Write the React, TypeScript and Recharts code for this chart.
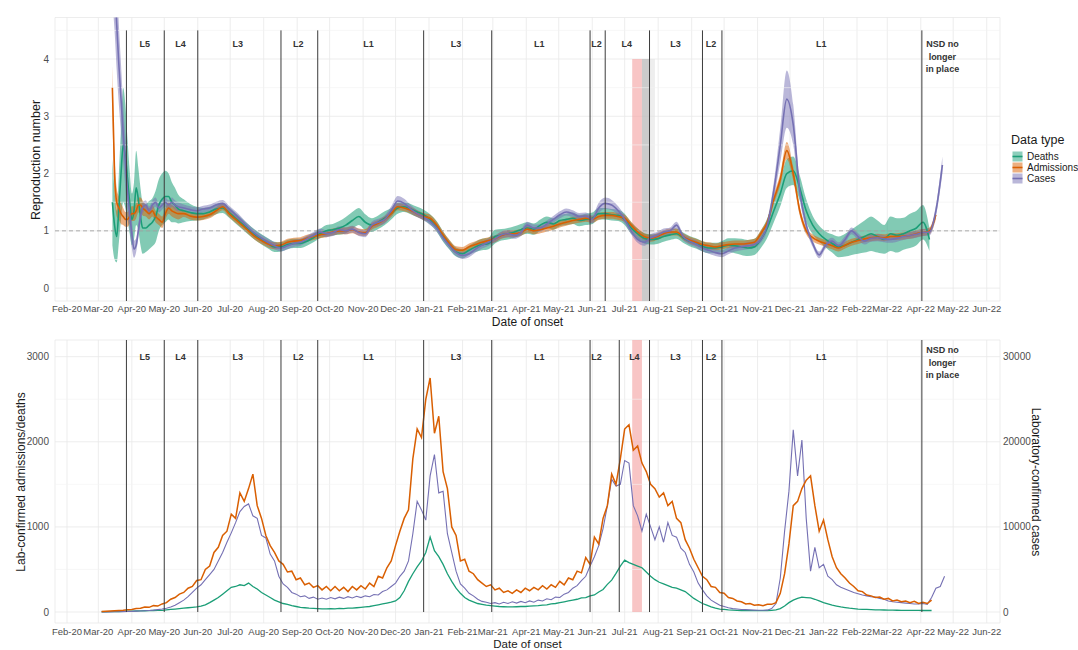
import React from 'react';
import {
  ComposedChart, Area, Line, Scatter, XAxis, YAxis, CartesianGrid, ReferenceLine, ReferenceArea,
} from 'recharts';

const DEATHS = '#1b9e77';
const ADMISSIONS = '#d95f02';
const CASES = '#7570b3';

// day index = days since 1 Feb 2020
const DAY0 = Date.UTC(2020, 1, 1);
const dayOf = (iso: string) => Math.round((Date.parse(iso + 'T00:00:00Z') - DAY0) / 86400000);
const MONTHS = ['Jan', 'Feb', 'Mar', 'Apr', 'May', 'Jun', 'Jul', 'Aug', 'Sep', 'Oct', 'Nov', 'Dec'];
const fmtDay = (d: number) => {
  const dt = new Date(DAY0 + d * 86400000);
  return `${MONTHS[dt.getUTCMonth()]}-${String(dt.getUTCFullYear()).slice(2)}`;
};
const monthTicks: number[] = [];
for (let m = 0; m <= 28; m++) monthTicks.push(Math.round((Date.UTC(2020, 1 + m, 1) - DAY0) / 86400000));
const X_DOMAIN: [number, number] = [-11.1, 863.3];

// ---- level periods ----
const levelNames = ['L5', 'L4', 'L3', 'L2', 'L1', 'L3', 'L1', 'L2', 'L4', 'L3', 'L2', 'L1', 'NSD no\nlonger\nin place'];
const levelLabelDatesTop = ['2020-04-13', '2020-05-16', '2020-07-08', '2020-09-02', '2020-11-06', '2021-01-26', '2021-04-13', '2021-06-05', '2021-07-03', '2021-08-17', '2021-09-19', '2021-12-30', '2022-04-21'];
const levelLabelDatesBottom = ['2020-04-13', '2020-05-16', '2020-07-08', '2020-09-02', '2020-11-06', '2021-01-26', '2021-04-13', '2021-06-05', '2021-07-10', '2021-08-17', '2021-09-19', '2021-12-30', '2022-04-21'];
const levelChangesTop = ['2020-03-27', '2020-05-01', '2020-06-01', '2020-08-17', '2020-09-20', '2020-12-27', '2021-02-28', '2021-05-30', '2021-06-13', '2021-07-24', '2021-09-11', '2021-09-29', '2022-04-02'];
const levelChangesBottom = ['2020-03-27', '2020-05-01', '2020-06-01', '2020-08-17', '2020-09-20', '2020-12-27', '2021-02-28', '2021-05-30', '2021-06-26', '2021-07-24', '2021-09-11', '2021-09-29', '2022-04-02'];
const pinkPeriod = ['2021-07-08', '2021-07-17'];
const greyPeriod = ['2021-07-17', '2021-07-24'];
const lightGreyPeriod = ['2021-07-24', '2021-07-29'];

// ---- top panel: reproduction number (median + half-width of interval) ----
const topEarlyDays = [42, 44, 46, 48, 50, 52, 54, 56, 58, 60, 62, 64, 66, 68, 70, 73, 76, 79, 82, 85, 88, 91, 94, 97, 100, 103];
const topDays = [...topEarlyDays, ...Array.from({ length: 118 }, (_, i) => 108 + 6 * i)];

const casesR = [
  6.0, 5.4, 4.6, 3.9, 3.3, 2.7, 2.2, 1.7, 1.3, 0.95, 0.68, 0.75, 1.0, 1.25, 1.4, 1.45, 1.35, 1.45, 1.5, 1.4, 1.45, 1.5, 1.45, 1.5, 1.45, 1.42,
  1.4, 1.37, 1.35, 1.38, 1.4, 1.45, 1.48, 1.38, 1.28, 1.17,
  1.05, 0.95, 0.87, 0.8, 0.74, 0.7, 0.74, 0.78, 0.8, 0.86,
  0.92, 0.98, 0.95, 0.97, 1.02, 1.0, 1.03, 0.97, 0.95, 1.1,
  1.15, 1.2, 1.35, 1.52, 1.48, 1.38, 1.3, 1.24, 1.16, 1.05,
  0.88, 0.74, 0.62, 0.57, 0.6, 0.68, 0.75, 0.8, 0.86, 0.93,
  0.95, 0.92, 0.97, 1.1, 1.05, 1.05, 1.12, 1.2, 1.28, 1.33,
  1.3, 1.25, 1.26, 1.2, 1.4, 1.48, 1.45, 1.35, 1.2, 1.0,
  0.85, 0.8, 0.88, 0.92, 0.98, 1.0, 1.1, 0.9, 0.82, 0.77,
  0.7, 0.66, 0.62, 0.6, 0.65, 0.7, 0.72, 0.74, 0.76, 0.85,
  1.1, 1.7, 2.5, 3.3, 2.85, 1.7, 1.1, 0.78, 0.58, 0.75,
  0.82, 0.74, 0.85, 1.0, 0.9, 0.82, 0.87, 0.88, 0.86, 0.85,
  0.87, 0.9, 0.92, 0.94, 0.97, 0.98, 1.35, 2.15,
];
const casesW = [
  1.0, 0.9, 0.8, 0.7, 0.6, 0.5, 0.45, 0.4, 0.3, 0.25, 0.15, 0.12, 0.12, 0.1, 0.1, 0.08, 0.08, 0.08, 0.08, 0.08, 0.08, 0.08, 0.08, 0.08, 0.08, 0.08,
  0.06, 0.06, 0.06, 0.06, 0.06, 0.06, 0.06, 0.06, 0.06, 0.06,
  0.06, 0.06, 0.06, 0.06, 0.06, 0.06, 0.06, 0.06, 0.06, 0.06,
  0.06, 0.06, 0.06, 0.06, 0.06, 0.06, 0.06, 0.06, 0.06, 0.06,
  0.06, 0.07, 0.08, 0.09, 0.08, 0.07, 0.06, 0.06, 0.06, 0.06,
  0.06, 0.06, 0.06, 0.06, 0.06, 0.06, 0.06, 0.06, 0.06, 0.06,
  0.06, 0.06, 0.06, 0.06, 0.06, 0.06, 0.06, 0.06, 0.06, 0.06,
  0.06, 0.06, 0.06, 0.07, 0.09, 0.1, 0.09, 0.08, 0.07, 0.06,
  0.06, 0.06, 0.06, 0.06, 0.06, 0.06, 0.06, 0.06, 0.06, 0.06,
  0.06, 0.06, 0.06, 0.06, 0.06, 0.06, 0.06, 0.06, 0.06, 0.06,
  0.1, 0.15, 0.3, 0.5, 0.35, 0.15, 0.08, 0.06, 0.06, 0.06,
  0.06, 0.06, 0.06, 0.06, 0.06, 0.06, 0.06, 0.06, 0.06, 0.06,
  0.06, 0.06, 0.06, 0.06, 0.06, 0.06, 0.1, 0.15,
];
const admissionsR = [
  3.5, 2.0, 1.5, 1.4, 1.3, 1.25, 1.2, 1.2, 1.25, 1.3, 1.3, 1.35, 1.45, 1.45, 1.4, 1.35, 1.3, 1.35, 1.25, 1.2, 1.15, 1.3, 1.4, 1.35, 1.32, 1.3,
  1.3, 1.26, 1.24, 1.25, 1.28, 1.35, 1.42, 1.3, 1.2, 1.1,
  1.0, 0.9, 0.83, 0.77, 0.74, 0.75, 0.8, 0.82, 0.83, 0.87,
  0.9, 0.93, 0.95, 0.98, 1.0, 1.0, 1.02, 0.98, 0.97, 1.08,
  1.13, 1.2, 1.3, 1.42, 1.4, 1.36, 1.3, 1.25, 1.22, 1.1,
  0.93, 0.78, 0.67, 0.66, 0.72, 0.76, 0.8, 0.83, 0.86, 0.92,
  0.95, 0.95, 0.97, 1.03, 1.0, 1.02, 1.05, 1.08, 1.12, 1.15,
  1.18, 1.2, 1.22, 1.2, 1.25, 1.27, 1.27, 1.25, 1.22, 1.1,
  0.98, 0.9, 0.87, 0.9, 0.95, 0.98, 0.98, 0.9, 0.84, 0.8,
  0.76, 0.74, 0.72, 0.74, 0.76, 0.77, 0.77, 0.78, 0.8, 0.95,
  1.15, 1.55, 1.9, 2.4, 2.0, 1.35, 1.0, 0.88, 0.82, 0.78,
  0.74, 0.7, 0.75, 0.8, 0.83, 0.86, 0.88, 0.89, 0.88, 0.9,
  0.9, 0.91, 0.92, 0.95, 0.97, 1.0, 1.28, null,
];
const admissionsW = [
  0.4, 0.35, 0.25, 0.2, 0.18, 0.15, 0.13, 0.13, 0.13, 0.13, 0.13, 0.13, 0.13, 0.13, 0.13, 0.1, 0.1, 0.1, 0.1, 0.1, 0.1, 0.1, 0.1, 0.1, 0.1, 0.1,
  0.06, 0.06, 0.06, 0.06, 0.06, 0.06, 0.06, 0.06, 0.06, 0.06,
  0.06, 0.06, 0.06, 0.06, 0.06, 0.06, 0.06, 0.06, 0.06, 0.06,
  0.06, 0.06, 0.06, 0.06, 0.06, 0.06, 0.06, 0.06, 0.06, 0.06,
  0.06, 0.06, 0.06, 0.06, 0.06, 0.06, 0.06, 0.06, 0.06, 0.06,
  0.06, 0.06, 0.06, 0.06, 0.06, 0.06, 0.06, 0.06, 0.06, 0.06,
  0.06, 0.06, 0.06, 0.06, 0.06, 0.06, 0.06, 0.06, 0.06, 0.06,
  0.06, 0.06, 0.06, 0.06, 0.06, 0.06, 0.06, 0.06, 0.06, 0.06,
  0.06, 0.06, 0.06, 0.06, 0.06, 0.06, 0.06, 0.06, 0.06, 0.06,
  0.06, 0.06, 0.06, 0.06, 0.06, 0.06, 0.06, 0.06, 0.06, 0.06,
  0.06, 0.08, 0.1, 0.15, 0.12, 0.08, 0.06, 0.06, 0.06, 0.06,
  0.06, 0.06, 0.06, 0.06, 0.06, 0.06, 0.06, 0.06, 0.06, 0.06,
  0.06, 0.06, 0.06, 0.06, 0.06, 0.06, 0.08, null,
];
const deathsR = [
  1.5, 1.1, 0.9, 1.4, 2.0, 2.5, 2.3, 1.9, 1.5, 1.2, 1.35, 1.75, 1.55, 1.25, 1.05, 1.05, 1.1, 1.15, 1.25, 1.45, 1.55, 1.6, 1.6, 1.5, 1.45, 1.38,
  1.35, 1.32, 1.3, 1.3, 1.33, 1.38, 1.4, 1.32, 1.22, 1.12,
  1.02, 0.93, 0.85, 0.78, 0.72, 0.72, 0.76, 0.78, 0.78, 0.82,
  0.88, 0.95, 1.0, 1.02, 1.05, 1.1, 1.18, 1.25, 1.15, 1.1,
  1.15, 1.22, 1.3, 1.4, 1.42, 1.38, 1.33, 1.28, 1.2, 1.08,
  0.9, 0.75, 0.63, 0.6, 0.66, 0.72, 0.76, 0.78, 0.9, 0.93,
  0.95, 0.98, 1.02, 1.05, 1.03, 1.1, 1.15, 1.12, 1.18, 1.2,
  1.22, 1.18, 1.2, 1.22, 1.3, 1.3, 1.28, 1.27, 1.2, 1.05,
  0.95, 0.87, 0.85, 0.86, 0.9, 0.93, 0.95, 0.88, 0.82, 0.78,
  0.73, 0.7, 0.7, 0.72, 0.75, 0.74, 0.72, 0.7, 0.72, 0.85,
  1.05, 1.35, 1.65, 2.0, 2.05, 1.75, 1.35, 1.1, 0.95, 0.85,
  0.78, 0.72, 0.75, 0.8, 0.85, 0.9, 0.95, 0.9, 0.85, 0.95,
  0.92, 0.95, 1.0, 1.05, 1.15, 0.85, null, null,
];
const deathsW = [
  0.75, 0.6, 0.45, 0.6, 0.8, 1.0, 0.9, 0.7, 0.55, 0.45, 0.5, 0.65, 0.55, 0.5, 0.45, 0.42, 0.42, 0.42, 0.45, 0.45, 0.45, 0.45, 0.4, 0.35, 0.3, 0.25,
  0.2, 0.15, 0.12, 0.1, 0.09, 0.09, 0.09, 0.09, 0.09, 0.09,
  0.09, 0.09, 0.09, 0.09, 0.09, 0.08, 0.08, 0.08, 0.08, 0.08,
  0.08, 0.08, 0.1, 0.1, 0.12, 0.14, 0.15, 0.15, 0.14, 0.12,
  0.12, 0.12, 0.1, 0.1, 0.09, 0.09, 0.09, 0.09, 0.09, 0.09,
  0.09, 0.08, 0.08, 0.08, 0.08, 0.09, 0.1, 0.1, 0.12, 0.1,
  0.1, 0.1, 0.1, 0.1, 0.1, 0.1, 0.1, 0.1, 0.1, 0.1,
  0.1, 0.1, 0.1, 0.1, 0.1, 0.1, 0.1, 0.1, 0.1, 0.1,
  0.09, 0.09, 0.09, 0.09, 0.09, 0.09, 0.09, 0.09, 0.09, 0.09,
  0.09, 0.09, 0.09, 0.1, 0.12, 0.13, 0.14, 0.14, 0.14, 0.15,
  0.17, 0.2, 0.22, 0.25, 0.25, 0.22, 0.2, 0.16, 0.14, 0.14,
  0.16, 0.18, 0.2, 0.22, 0.25, 0.28, 0.3, 0.28, 0.25, 0.3,
  0.3, 0.28, 0.3, 0.3, 0.3, 0.2, null, null,
];

// ---- bottom panel: daily counts, sampled every 4 days from day 32 ----
const admissionsDaily = [
  5, 8, 12, 15, 18, 22, 28, 30, 40, 45,
  60, 55, 75, 70, 95, 110, 150, 170, 210, 230,
  280, 300, 370, 380, 500, 540, 700, 760, 900, 950,
  1150, 1100, 1400, 1300, 1450, 1620, 1250, 1100, 900, 780,
  700, 600, 560, 470, 480, 380, 400, 320, 340, 290,
  310, 260, 300, 250, 300, 250, 290, 240, 300, 260,
  310, 270, 340, 300, 420, 400, 520, 600, 780, 950,
  1100, 1200, 1800, 2150, 2050, 2500, 2750, 2100, 2300, 1650,
  1450, 1000, 900, 600, 620, 480, 450, 380, 340, 300,
  320, 260, 280, 230, 250, 220, 260, 230, 280, 250,
  290, 260, 310, 270, 320, 290, 360, 320, 400, 380,
  480, 460, 640, 560, 880, 800, 1100, 1250, 1620, 1500,
  1800, 2150, 2200, 1900, 1950, 1750, 1650, 1500, 1450, 1350,
  1400, 1250, 1300, 1100, 1050, 850, 750, 620, 520, 420,
  380, 300, 290, 230, 220, 170, 160, 130, 120, 95,
  100, 80, 85, 75, 90, 90, 110, 220, 450, 800,
  1250, 1300, 1450, 1550, 1600, 1250, 950, 1080, 850, 650,
  520, 450, 400, 340, 300, 250, 240, 200, 190, 170,
  175, 150, 160, 130, 140, 120, 130, 110, 125, 100,
  115, 100, 140, null, null, null,
];
const casesDaily = [
  0, 10, 20, 30, 40, 50, 70, 80, 100, 120,
  150, 180, 220, 280, 350, 450, 600, 800, 1100, 1400,
  1800, 2300, 2800, 3200, 3800, 4400, 5000, 6000, 7000, 8200,
  9300, 10500, 11800, 12400, 12700, 11300, 11000, 9000, 8700, 6800,
  6000, 4200, 3300, 2900, 2300, 2100, 1800, 1900, 1600, 1750,
  1500, 1650, 1500, 1700, 1550, 1750, 1600, 1800, 1650, 1850,
  1700, 1900, 1800, 2050, 2000, 2400, 2600, 3000, 3400, 4200,
  4800, 6000, 9200, 13000, 12000, 10800, 16000, 18500, 14000, 14200,
  9200, 7000, 4800, 3300, 2800, 2200, 1900, 1500, 1250, 1150,
  1000, 1100, 950, 1150, 1000, 1200, 1050, 1250, 1100, 1300,
  1150, 1400, 1300, 1550, 1450, 1750, 1700, 2100, 2300, 2800,
  3100, 3700, 4200, 5400, 6500, 7800, 9800, 12500, 15600, 14800,
  15000, 17800, 17500, 12500, 11300, 9500, 11500, 10000, 8500, 10000,
  8200, 10500, 9000, 8800, 7500, 7000, 5600, 4700, 3400, 2600,
  1900, 1400, 1100, 800, 650, 500, 400, 350, 300, 280,
  250, 220, 200, 200, 220, 400, 1000, 4000, 9500, 14200,
  21400, 16000, 20200, 11000, 4800, 7600, 5200, 5600, 4200, 3800,
  3200, 2900, 2700, 2500, 2300, 2150, 2000, 1900, 1800, 1750,
  1600, 1500, 1300, 1200, 1150, 1100, 1050, 1000, 950, 950,
  1000, 900, 1700, 2800, 3000, 4200,
];
const deathsDaily = [
  2, 3, 4, 5, 6, 8, 9, 10, 12, 13,
  15, 16, 18, 20, 20, 25, 30, 35, 40, 45,
  50, 55, 60, 70, 85, 110, 140, 170, 210, 250,
  290, 300, 320, 310, 340, 300, 270, 230, 200, 170,
  140, 120, 100, 90, 75, 65, 55, 50, 45, 42,
  40, 38, 38, 40, 38, 42, 40, 45, 45, 50,
  55, 60, 65, 75, 85, 95, 105, 115, 130, 170,
  250, 360, 450, 530, 600, 700, 880, 720, 650, 560,
  450, 360, 280, 220, 170, 140, 120, 100, 90, 80,
  75, 70, 65, 62, 60, 60, 62, 65, 65, 70,
  72, 75, 80, 85, 95, 100, 110, 120, 130, 140,
  150, 165, 170, 190, 200, 235, 265, 325, 375, 455,
  540, 610, 580, 560, 540, 520, 470, 420, 380, 350,
  330, 310, 290, 280, 260, 240, 200, 160, 130, 100,
  80, 60, 45, 35, 30, 25, 22, 20, 18, 17,
  16, 16, 16, 17, 18, 20, 25, 40, 70, 110,
  140, 160, 175, 170, 165, 150, 130, 110, 95, 80,
  70, 60, 52, 45, 40, 35, 32, 30, 28, 26,
  25, 24, 22, 22, 21, 20, 20, 20, 19, 19,
  18, 18, 18, null, null, null,
];

const band = (m: number | null, w: number | null) =>
  m == null || w == null ? null : [+(m - w).toFixed(3), +(m + w).toFixed(3)];

const topData = topDays.map((day, i) => ({
  day,
  deaths: deathsR[i],
  deathsBand: band(deathsR[i], deathsW[i]),
  admissions: admissionsR[i],
  admissionsBand: band(admissionsR[i], admissionsW[i]),
  cases: casesR[i],
  casesBand: band(casesR[i], casesW[i]),
}));

const bottomData = admissionsDaily.map((v, i) => ({
  day: 32 + 4 * i,
  admissions: v,
  cases: casesDaily[i],
  deaths: deathsDaily[i],
}));

const TOP_Y: [number, number] = [-0.225, 4.725];
const BOT_Y: [number, number] = [-129, 3196];
const BOT_Y2: [number, number] = [-1290, 31960];

const topLabels = levelNames.map((text, i) => ({ day: dayOf(levelLabelDatesTop[i]), y: 4.26, text }));
const bottomLabels = levelNames.map((text, i) => ({
  day: dayOf(levelLabelDatesBottom[i]), y: text.startsWith('NSD') ? 3080 : 3000, text,
}));

const LevelText = (props: any) => {
  const { cx, cy, payload } = props;
  const lines: string[] = payload.text.split('\n');
  return (
    <text x={cx} y={cy} textAnchor="middle" fontSize={9} fontWeight="bold" fill="#333">
      {lines.map((l, i) => (
        <tspan key={i} x={cx} dy={i === 0 ? '0.35em' : 12.5}>{l}</tspan>
      ))}
    </text>
  );
};

const xTickStyle = { fontSize: 9.5, fill: '#4d4d4d' };
const yTickStyle = { fontSize: 10, fill: '#4d4d4d' };
const legendItems = [
  { name: 'Deaths', color: DEATHS },
  { name: 'Admissions', color: ADMISSIONS },
  { name: 'Cases', color: CASES },
];

export default function App() {
  return (
    <div style={{ position: 'absolute', left: 0, top: 0, width: 1078, height: 650, overflow: 'hidden', background: '#fff', fontFamily: '"Liberation Sans", Arial, sans-serif' }}>
      <div style={{ position: 'absolute', left: 0, top: 0 }}>
        <ComposedChart width={1078} height={330} data={topData} margin={{ top: 17.5, right: 78, bottom: 0, left: 0 }}>
          <CartesianGrid stroke="#e9e9e9" strokeWidth={0.8} />
          {[0.5, 1.5, 2.5, 3.5, 4.5].map((v) => (
            <ReferenceLine key={v} y={v} stroke="#f1f1f1" strokeWidth={0.6} />
          ))}
          <XAxis dataKey="day" type="number" domain={X_DOMAIN} allowDataOverflow ticks={monthTicks} interval={0}
            tickFormatter={fmtDay} tickLine={false} axisLine={false} tickSize={0} tickMargin={4} height={29} tick={xTickStyle} />
          <YAxis type="number" domain={TOP_Y} allowDataOverflow ticks={[0, 1, 2, 3, 4]} width={55}
            tickLine={false} axisLine={false} tickSize={0} tickMargin={6} tick={yTickStyle} />
          <ReferenceArea x1={dayOf(pinkPeriod[0])} x2={dayOf(pinkPeriod[1])} y1={TOP_Y[0]} y2={4} fill="#f4a6a6" fillOpacity={0.65} stroke="none" />
          <ReferenceArea x1={dayOf(greyPeriod[0])} x2={dayOf(greyPeriod[1])} y1={TOP_Y[0]} y2={4} fill="#b9b9b9" fillOpacity={0.75} stroke="none" />
          <ReferenceArea x1={dayOf(lightGreyPeriod[0])} x2={dayOf(lightGreyPeriod[1])} y1={TOP_Y[0]} y2={4} fill="#e2e2e2" fillOpacity={0.6} stroke="none" />
          <ReferenceLine y={1} stroke="#a3a3a3" strokeDasharray="4 3" strokeWidth={0.9} />
          <Area type="monotone" dataKey="deathsBand" fill={DEATHS} fillOpacity={0.55} stroke="none" isAnimationActive={false} />
          <Area type="monotone" dataKey="admissionsBand" fill={ADMISSIONS} fillOpacity={0.5} stroke="none" isAnimationActive={false} />
          <Area type="monotone" dataKey="casesBand" fill={CASES} fillOpacity={0.5} stroke="none" isAnimationActive={false} />
          <Line type="monotone" dataKey="deaths" stroke={DEATHS} strokeWidth={1.6} dot={false} activeDot={false} isAnimationActive={false} />
          <Line type="monotone" dataKey="admissions" stroke={ADMISSIONS} strokeWidth={1.6} dot={false} activeDot={false} isAnimationActive={false} />
          <Line type="monotone" dataKey="cases" stroke={CASES} strokeWidth={1.6} dot={false} activeDot={false} isAnimationActive={false} />
          {levelChangesTop.map((d) => (
            <ReferenceLine key={d} segment={[{ x: dayOf(d), y: TOP_Y[0] }, { x: dayOf(d), y: 4.5 }]} stroke="#3c3c3c" strokeWidth={1} />
          ))}
          <Scatter data={topLabels} dataKey="y" shape={LevelText} isAnimationActive={false} />
        </ComposedChart>
      </div>

      <div style={{ position: 'absolute', left: 0, top: 330 }}>
        <ComposedChart width={1078} height={320} data={bottomData} margin={{ top: 10, right: 0, bottom: 0, left: 0 }}>
          <CartesianGrid stroke="#e9e9e9" strokeWidth={0.8} yAxisId="left" />
          {[500, 1500, 2500].map((v) => (
            <ReferenceLine key={v} yAxisId="left" y={v} stroke="#f1f1f1" strokeWidth={0.6} />
          ))}
          <XAxis dataKey="day" type="number" domain={X_DOMAIN} allowDataOverflow ticks={monthTicks} interval={0}
            tickFormatter={fmtDay} tickLine={false} axisLine={false} tickSize={0} tickMargin={5} height={27} tick={xTickStyle} />
          <YAxis yAxisId="left" type="number" domain={BOT_Y} allowDataOverflow ticks={[0, 1000, 2000, 3000]} width={55}
            tickLine={false} axisLine={false} tickSize={0} tickMargin={6} tick={yTickStyle} />
          <YAxis yAxisId="right" orientation="right" type="number" domain={BOT_Y2} allowDataOverflow ticks={[0, 10000, 20000, 30000]} width={78}
            tickLine={false} axisLine={false} tickSize={0} tickMargin={3} tick={yTickStyle} />
          <ReferenceArea yAxisId="left" x1={dayOf(pinkPeriod[0])} x2={dayOf(pinkPeriod[1])} y1={0} y2={BOT_Y[1]} fill="#f4a6a6" fillOpacity={0.65} stroke="none" />
          <Line yAxisId="left" type="linear" dataKey="deaths" stroke={DEATHS} strokeWidth={1.3} dot={false} activeDot={false} isAnimationActive={false} />
          <Line yAxisId="right" type="linear" dataKey="cases" stroke={CASES} strokeWidth={1.1} dot={false} activeDot={false} isAnimationActive={false} />
          <Line yAxisId="left" type="linear" dataKey="admissions" stroke={ADMISSIONS} strokeWidth={1.5} dot={false} activeDot={false} isAnimationActive={false} />
          {levelChangesBottom.map((d) => (
            <ReferenceLine key={d} yAxisId="left" segment={[{ x: dayOf(d), y: 0 }, { x: dayOf(d), y: BOT_Y[1] }]} stroke="#3c3c3c" strokeWidth={1} />
          ))}
          <Scatter yAxisId="left" data={bottomLabels} dataKey="y" shape={LevelText} isAnimationActive={false} />
        </ComposedChart>
      </div>

      {/* axis titles */}
      <svg width={1078} height={650} style={{ position: 'absolute', left: 0, top: 0, pointerEvents: 'none' }}>
        <text x={36} y={160} transform="rotate(-90 36 160)" textAnchor="middle" dominantBaseline="central" fontSize={12.5} fill="#1a1a1a">Reproduction number</text>
        <text x={527.5} y={325.5} textAnchor="middle" fontSize={12} fill="#1a1a1a">Date of onset</text>
        <text x={21} y={482} transform="rotate(-90 21 482)" textAnchor="middle" dominantBaseline="central" fontSize={12} fill="#1a1a1a">Lab-confirmed admissions/deaths</text>
        <text x={1036} y={482} transform="rotate(90 1036 482)" textAnchor="middle" dominantBaseline="central" fontSize={12} fill="#1a1a1a">Laboratory-confirmed cases</text>
        <text x={527.5} y={648} textAnchor="middle" fontSize={11.5} fill="#1a1a1a">Date of onset</text>
      </svg>

      {/* legend */}
      <div style={{ position: 'absolute', left: 1011, top: 133, color: '#1a1a1a', whiteSpace: 'nowrap' }}>
        <div style={{ fontSize: 12.5, lineHeight: '15px', marginBottom: 3 }}>Data type</div>
        {legendItems.map((it) => (
          <div key={it.name} style={{ display: 'flex', alignItems: 'center', height: 11, fontSize: 10 }}>
            <svg width={12} height={11} style={{ display: 'block' }}>
              <rect x={1.5} y={0.5} width={10} height={10} fill={it.color} fillOpacity={0.5} />
              <line x1={1.5} x2={11.5} y1={5.5} y2={5.5} stroke={it.color} strokeWidth={1.6} />
            </svg>
            <span style={{ marginLeft: 4 }}>{it.name}</span>
          </div>
        ))}
      </div>
    </div>
  );
}
